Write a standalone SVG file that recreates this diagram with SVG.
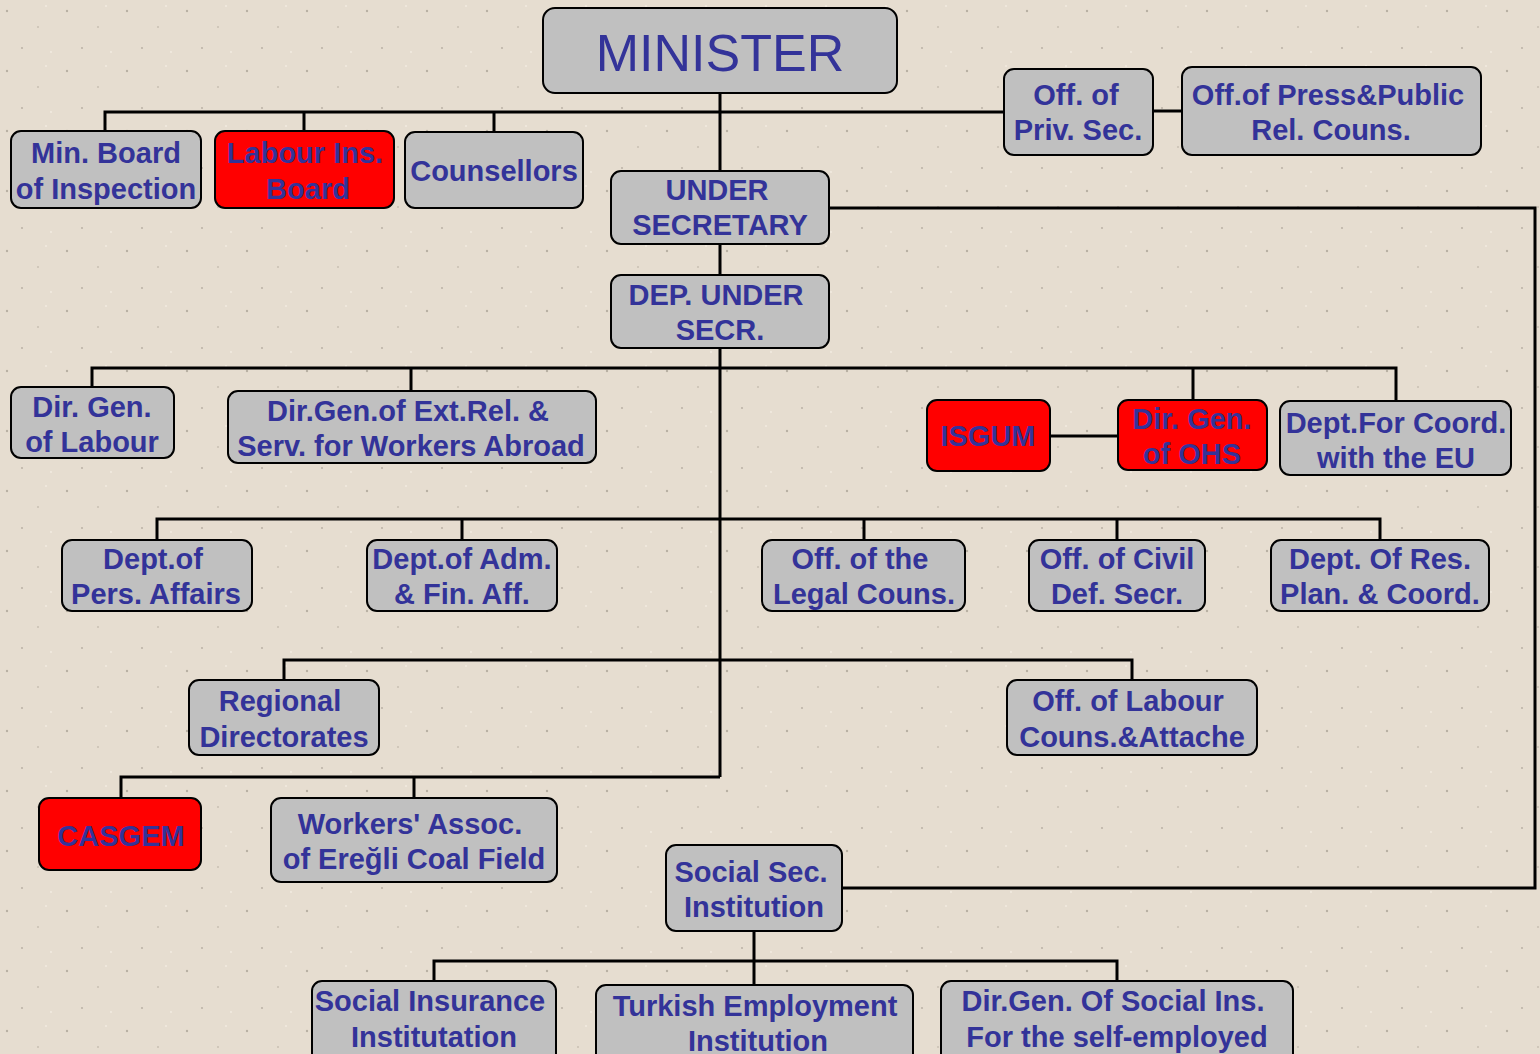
<svg xmlns="http://www.w3.org/2000/svg" width="1540" height="1054" viewBox="0 0 1540 1054">
<defs>
<style>
.bg{fill:#e6ddd0}
.n rect{fill:#c0c0c0;stroke:#000;stroke-width:2}
.r rect{fill:#ff0000}
.n text{font-family:"Liberation Sans",Arial,sans-serif;font-weight:bold;font-size:29px;fill:#333399;text-anchor:middle}
#minister text{font-weight:normal;font-size:52px}
.c path{fill:none;stroke:#000;stroke-width:3}
</style>
<pattern id="speck" width="60" height="60" patternUnits="userSpaceOnUse">
<circle cx="7" cy="11" r="1.2" fill="#b9b0a3"/>
<circle cx="38" cy="27" r="1" fill="#c9c0b3"/>
<circle cx="22" cy="48" r="1.1" fill="#bdb4a7"/>
<circle cx="51" cy="52" r="0.9" fill="#f3ece2"/>
<circle cx="46" cy="6" r="1" fill="#f2ebe0"/>
</pattern>
</defs>
<rect class="bg" x="0" y="0" width="1540" height="1054"/>
<rect x="0" y="0" width="1540" height="1054" fill="url(#speck)"/>

<g id="connectors" class="c">
<path d="M720 93V777"/>
<path d="M105 131V112H1004M304 112V131M494 112V132"/>
<path d="M1153 111H1182"/>
<path d="M829 208H1535V888H842"/>
<path d="M92 387V368H1396V401M411 368V391M1193 368V400"/>
<path d="M1050 436H1118"/>
<path d="M157 540V519H1380V540M462 519V540M864 519V540M1117 519V540"/>
<path d="M284 680V660H1132V680"/>
<path d="M121 798V777H720M414 777V798"/>
<path d="M754 931V985M434 981V961H1117V981"/>
</g>

<g id="minister" class="n"><rect x="543" y="8" width="354" height="85" rx="12"/><text x="720" y="71">MINISTER</text></g>
<g id="min-board" class="n"><rect x="11" y="131" width="190" height="77" rx="10"/><text x="106" y="163">Min. Board</text><text x="106" y="199">of Inspection</text></g>
<g id="labour-ins" class="n r"><rect x="215" y="131" width="179" height="77" rx="10"/><text x="305" y="163">Labour Ins.</text><text x="308" y="199">Board</text></g>
<g id="counsellors" class="n"><rect x="405" y="132" width="178" height="76" rx="10"/><text x="494" y="181">Counsellors</text></g>
<g id="priv-sec" class="n"><rect x="1004" y="69" width="149" height="86" rx="10"/><text x="1076" y="105">Off. of</text><text x="1078" y="140">Priv. Sec.</text></g>
<g id="press" class="n"><rect x="1182" y="67" width="299" height="88" rx="10"/><text x="1328" y="105">Off.of Press&amp;Public</text><text x="1331" y="140">Rel. Couns.</text></g>
<g id="under-sec" class="n"><rect x="611" y="171" width="218" height="73" rx="10"/><text x="717" y="200">UNDER</text><text x="720" y="235">SECRETARY</text></g>
<g id="dep-under" class="n"><rect x="611" y="275" width="218" height="73" rx="10"/><text x="716" y="305">DEP. UNDER</text><text x="720" y="340">SECR.</text></g>
<g id="dg-labour" class="n"><rect x="11" y="387" width="163" height="71" rx="10"/><text x="92" y="417">Dir. Gen.</text><text x="92" y="452">of Labour</text></g>
<g id="dg-extrel" class="n"><rect x="228" y="391" width="368" height="72" rx="10"/><text x="408" y="421">Dir.Gen.of Ext.Rel. &amp;</text><text x="411" y="456">Serv. for Workers Abroad</text></g>
<g id="isgum" class="n r"><rect x="927" y="400" width="123" height="71" rx="10"/><text x="988" y="446">ISGUM</text></g>
<g id="dg-ohs" class="n r"><rect x="1118" y="400" width="149" height="70" rx="10"/><text x="1192" y="429">Dir. Gen.</text><text x="1192" y="464">of OHS</text></g>
<g id="dept-eu" class="n"><rect x="1280" y="401" width="231" height="74" rx="10"/><text x="1396" y="433">Dept.For Coord.</text><text x="1396" y="468">with the EU</text></g>
<g id="pers" class="n"><rect x="62" y="540" width="190" height="71" rx="10"/><text x="153" y="569">Dept.of</text><text x="156" y="604">Pers. Affairs</text></g>
<g id="adm" class="n"><rect x="367" y="540" width="190" height="71" rx="10"/><text x="462" y="569">Dept.of Adm.</text><text x="462" y="604">&amp; Fin. Aff.</text></g>
<g id="legal" class="n"><rect x="762" y="540" width="203" height="71" rx="10"/><text x="860" y="569">Off. of the</text><text x="864" y="604">Legal Couns.</text></g>
<g id="civil" class="n"><rect x="1029" y="540" width="176" height="71" rx="10"/><text x="1117" y="569">Off. of Civil</text><text x="1117" y="604">Def. Secr.</text></g>
<g id="res" class="n"><rect x="1271" y="540" width="218" height="71" rx="10"/><text x="1380" y="569">Dept. Of Res.</text><text x="1380" y="604">Plan. &amp; Coord.</text></g>
<g id="regional" class="n"><rect x="189" y="680" width="190" height="75" rx="10"/><text x="280" y="711">Regional</text><text x="284" y="747">Directorates</text></g>
<g id="attache" class="n"><rect x="1007" y="680" width="250" height="75" rx="10"/><text x="1128" y="711">Off. of Labour</text><text x="1132" y="747">Couns.&amp;Attache</text></g>
<g id="casgem" class="n r"><rect x="39" y="798" width="162" height="72" rx="10"/><text x="121" y="846">CASGEM</text></g>
<g id="workers" class="n"><rect x="271" y="798" width="286" height="84" rx="10"/><text x="410" y="834">Workers' Assoc.</text><text x="414" y="869">of Ereğli Coal Field</text></g>
<g id="social-sec" class="n"><rect x="666" y="845" width="176" height="86" rx="10"/><text x="751" y="882">Social Sec.</text><text x="754" y="917">Institution</text></g>
<g id="social-ins" class="n"><rect x="312" y="981" width="244" height="90" rx="10"/><text x="430" y="1011">Social Insurance</text><text x="434" y="1047">Institutation</text></g>
<g id="turkish-emp" class="n"><rect x="596" y="985" width="317" height="90" rx="10"/><text x="755" y="1016">Turkish Employment</text><text x="758" y="1051">Institution</text></g>
<g id="self-emp" class="n"><rect x="941" y="981" width="352" height="90" rx="10"/><text x="1113" y="1011">Dir.Gen. Of Social Ins.</text><text x="1117" y="1047">For the self-employed</text></g>
</svg>
